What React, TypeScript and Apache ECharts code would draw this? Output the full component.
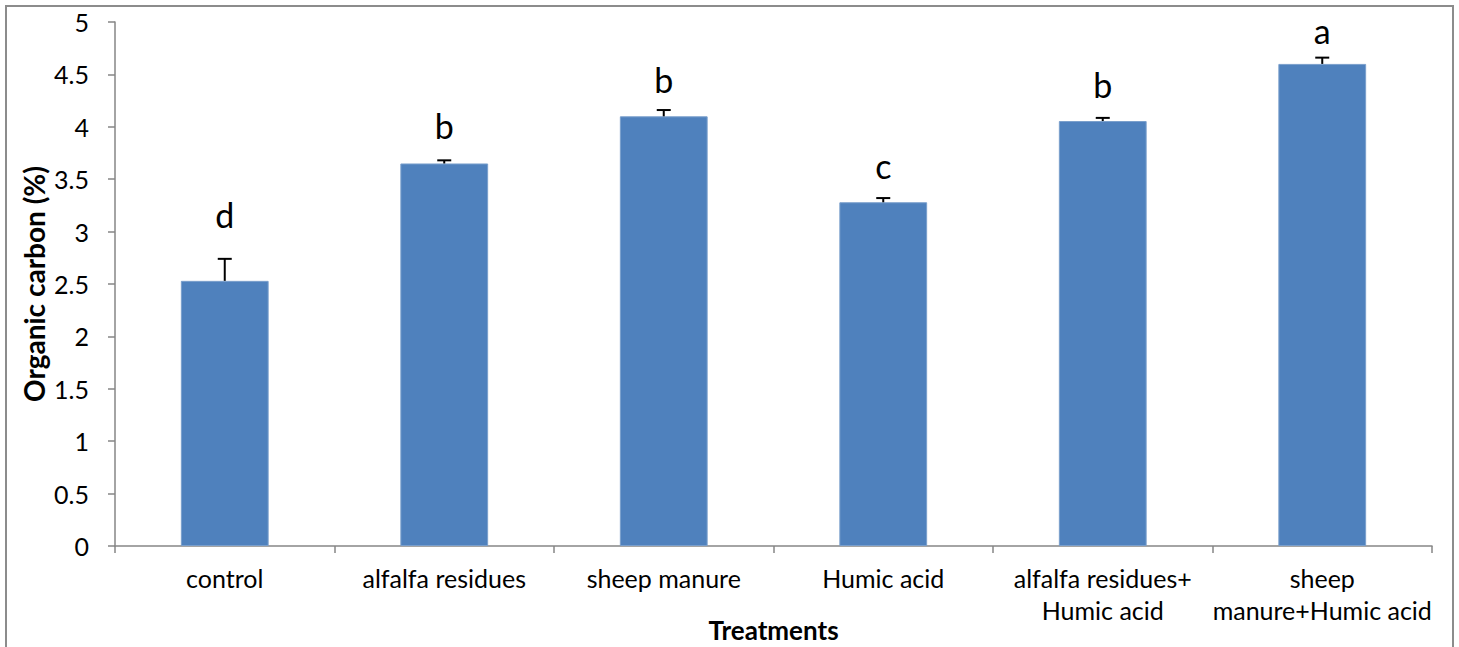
import React, { useEffect, useRef } from "react";
import * as echarts from "echarts";

const categories = [
  "control",
  "alfalfa residues",
  "sheep manure",
  "Humic acid",
  "alfalfa residues+\nHumic acid",
  "sheep\nmanure+Humic acid",
];
const values = [2.53, 3.65, 4.1, 3.28, 4.055, 4.6];
const errors = [0.21, 0.03, 0.06, 0.04, 0.03, 0.06];
const letters = ["d", "b", "b", "c", "b", "a"];
// baseline of each significance letter, in axis units
const letterBase = [3.02, 3.87, 4.31, 3.49, 4.26, 4.78];
const yTicks = { min: 0, max: 5, interval: 0.5 };

const FONT = "Lato, 'Open Sans', sans-serif";

export default function App() {
  const ref = useRef<HTMLDivElement>(null);
  useEffect(() => {
    if (!ref.current) return;
    const chart = echarts.init(ref.current, null, { renderer: "svg" });
    const errData = values.map((v, i) => [i, v, errors[i], letterBase[i]]);
    chart.setOption({
      animation: false,
      backgroundColor: "#ffffff",
      textStyle: { fontFamily: FONT },
      grid: { left: 115, right: 27, top: 22, bottom: 101, outerBoundsMode: "none", containLabel: false },
      graphic: [
        {
          type: "rect",
          shape: { x: 6, y: 6, width: 1447, height: 700 },
          style: { fill: "none", stroke: "#8c8c8c", lineWidth: 2 },
          silent: true,
        },
      ],
      xAxis: {
        type: "category",
        data: categories,
        name: "Treatments",
        nameLocation: "middle",
        nameGap: 71,
        nameMoveOverlap: false,
        nameTextStyle: { fontSize: 26, fontWeight: "bold", color: "#000", fontFamily: FONT },
        axisLine: { lineStyle: { color: "#868686", width: 1.5 } },
        axisTick: { show: true, length: 7, alignWithLabel: false, lineStyle: { color: "#868686", width: 1.5 } },
        axisLabel: { fontSize: 25, color: "#000", margin: 16, lineHeight: 32, fontFamily: FONT, interval: 0 },
        splitLine: { show: false },
      },
      yAxis: {
        type: "value",
        min: yTicks.min,
        max: yTicks.max,
        interval: yTicks.interval,
        name: "Organic carbon (%)",
        nameLocation: "middle",
        nameGap: 67,
        nameMoveOverlap: false,
        nameRotate: 90,
        nameTextStyle: { fontSize: 28, fontWeight: "bold", color: "#000", fontFamily: FONT },
        axisLine: { show: true, lineStyle: { color: "#868686", width: 1.5 } },
        axisTick: { show: true, length: 7, lineStyle: { color: "#868686", width: 1.5 } },
        axisLabel: { fontSize: 25, color: "#000", margin: 26, fontFamily: FONT },
        splitLine: { show: false },
      },
      series: [
        {
          type: "bar",
          data: values,
          barWidth: "40%",
          itemStyle: { color: "#4F81BD", borderColor: "#7a9fcc", borderWidth: 1 },
        },
        {
          type: "custom",
          data: errData,
          z: 10,
          renderItem: (params: any, api: any) => {
            const i = api.value(0);
            const v = api.value(1);
            const e = api.value(2);
            const lb = api.value(3);
            const letter = letters[params.dataIndex];
            const base = api.coord([i, v]);
            const top = api.coord([i, v + e]);
            const lp = api.coord([i, lb]);
            const cap = 7;
            return {
              type: "group",
              children: [
                {
                  type: "line",
                  shape: { x1: base[0], y1: base[1], x2: top[0], y2: top[1] },
                  style: { stroke: "#000", lineWidth: 2 },
                },
                {
                  type: "line",
                  shape: { x1: top[0] - cap, y1: top[1], x2: top[0] + cap, y2: top[1] },
                  style: { stroke: "#000", lineWidth: 2 },
                },
                {
                  type: "text",
                  x: lp[0],
                  y: lp[1] + 2,
                  style: {
                    text: letter,
                    fontSize: 34,
                    fontFamily: FONT,
                    fill: "#000",
                    align: "center",
                    verticalAlign: "bottom",
                  },
                },
              ],
            };
          },
        },
      ],
    });
    return () => chart.dispose();
  }, []);
  return (
    <div
      ref={ref}
      style={{ position: "absolute", left: 0, top: 0, width: 1459, height: 647 }}
    />
  );
}
